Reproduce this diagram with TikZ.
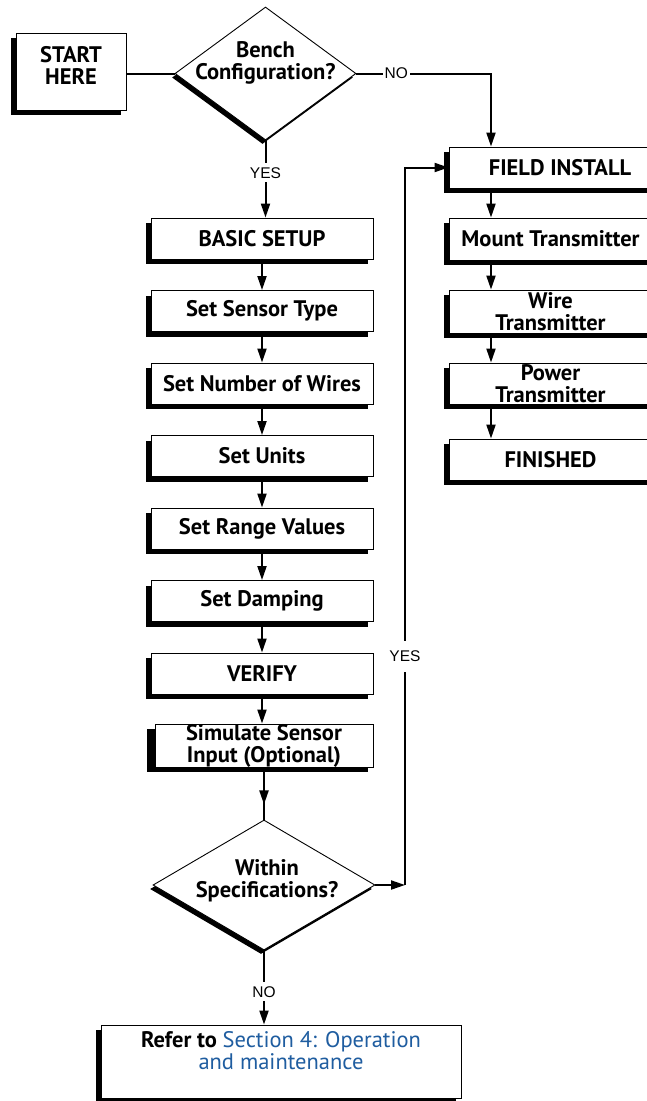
\documentclass[tikz,border=0pt]{standalone}
\usepackage{fontspec}
\setmainfont{PT Sans}
\newfontfamily\lblfont{Liberation Sans}
\usetikzlibrary{shapes.geometric,arrows.meta,shadows}
\definecolor{linkblue}{HTML}{1F5DA0}
\tikzset{
  boxfont/.style={font=\bfseries\fontsize{22.5}{22}\selectfont},
  box/.style={boxfont, draw=black, line width=0.9pt, fill=white, rectangle, inner sep=0pt, align=center,
    drop shadow={shadow xshift=-5pt, shadow yshift=-5pt, opacity=1, fill=black}},
  lbox/.style={box, minimum width=222pt, minimum height=41pt},
  rbox/.style={box, minimum width=203pt},
  decision/.style={diamond, draw=black, line width=0.9pt, fill=white, inner sep=0pt,
    drop shadow={shadow xshift=-3pt, shadow yshift=-4pt, opacity=1, fill=black}},
  dtext/.style={boxfont, align=center, inner sep=0pt},
  conn/.style={line width=2pt},
  arr/.style={line width=2pt, -{Triangle[length=14pt,width=9pt]}},
  lbl/.style={font=\lblfont\fontsize{15.5}{15.5}\selectfont, fill=white, inner xsep=2pt, inner ysep=4pt}
}
\begin{document}
\begin{tikzpicture}[x=1pt,y=-1pt]
\useasboundingbox (0,0) rectangle (647,1101);
\clip (0,0) rectangle (647,1101);
\fill[white] (0,0) rectangle (647,1101);

% start and first decision
\node[box, minimum width=110pt, minimum height=77pt] (start) at (71,71.5) {START\\HERE\\[-10pt]\mbox{}};
\node[decision, minimum width=181pt, minimum height=133pt] (d1) at (265.5,73.5) {};
\node[dtext] (d1t) at (265.5,63) {Bench\\Configuration?};

% left column
\node[lbox] (basic)  at (262,238.5) {BASIC SETUP};
\node[lbox] (sensor) at (262,311)   {Set Sensor Type};
\node[lbox] (wires)  at (262,383.5) {Set Number of Wires};
\node[lbox] (units)  at (262,456)   {Set Units};
\node[lbox] (range)  at (262,528.5) {Set Range Values};
\node[lbox] (damp)   at (262,601)   {Set Damping};
\node[lbox] (verify) at (262,673.5) {VERIFY};
\node[box, minimum width=218pt, minimum height=41pt,
      drop shadow={shadow xshift=-8pt, shadow yshift=-5pt, opacity=1, fill=black}]
      (sim) at (264,745.5) {Simulate Sensor\\Input (Optional)};

% second decision
\node[decision, minimum width=222pt, minimum height=130pt] (d2) at (264,885) {};
\node[dtext] (d2t) at (267,881) {Within\\Specifications?};

% bottom box
\node[box, minimum width=360pt, minimum height=73pt] (ref) at (281,1061.5)
  {Refer to \mdseries\color{linkblue}Section 4: Operation\\\mdseries\color{linkblue}and maintenance\\\mbox{}};

% right column
\node[rbox, minimum height=41pt] (field) at (550.5,167.5) {\hspace*{19pt}FIELD INSTALL};
\node[rbox, minimum height=42pt] (mount) at (550.5,239)   {Mount Transmitter};
\node[rbox, minimum height=43pt] (wire)  at (550.5,311.5) {Wire\\Transmitter};
\node[rbox, minimum height=41pt] (power) at (550.5,383.5) {Power\\Transmitter};
\node[rbox, minimum height=41pt] (fin)   at (550.5,459.5) {FINISHED};

% connectors
\draw[conn] (d1.west) -- (d1.west -| start.east);
\coordinate (nocorner) at (491,73.5);
\draw[arr] (d1.east) -- node[lbl, pos=0.296] (no1) {NO} (nocorner) -- (nocorner |- field.north);
\draw[arr] (d1.south) -- node[lbl, pos=0.42] (yes1) {YES} (d1.south |- basic.north);

\draw[arr] (basic.south) -- (sensor.north);
\draw[arr] (sensor.south) -- (wires.north);
\draw[arr] (wires.south) -- (units.north);
\draw[arr] (units.south) -- (range.north);
\draw[arr] (range.south) -- (damp.north);
\draw[arr] (damp.south) -- (verify.north);
\draw[arr] (verify.south) -- (verify.south |- sim.north);
\draw[conn] (sim.south -| d2.north) -- (d2.north);
\draw[arr] (sim.south -| d2.north) -- ++(0,37);

\draw[arr] (d2.south) -- node[lbl, pos=0.56] (no2) {NO} (d2.south |- ref.north);

\coordinate (loop) at (405,885);
\draw[arr] (d2.east) -- (loop);
\draw[arr] (loop) -- node[lbl, pos=0.319, inner ysep=10pt] (yes2) {YES} (loop |- field.west) -- (field.west);

\draw[arr] (field.south -| nocorner) -- (mount.north -| nocorner);
\draw[arr] (mount.south -| nocorner) -- (wire.north -| nocorner);
\draw[arr] (wire.south -| nocorner) -- (power.north -| nocorner);
\draw[arr] (power.south -| nocorner) -- (fin.north -| nocorner);
\end{tikzpicture}
\end{document}
